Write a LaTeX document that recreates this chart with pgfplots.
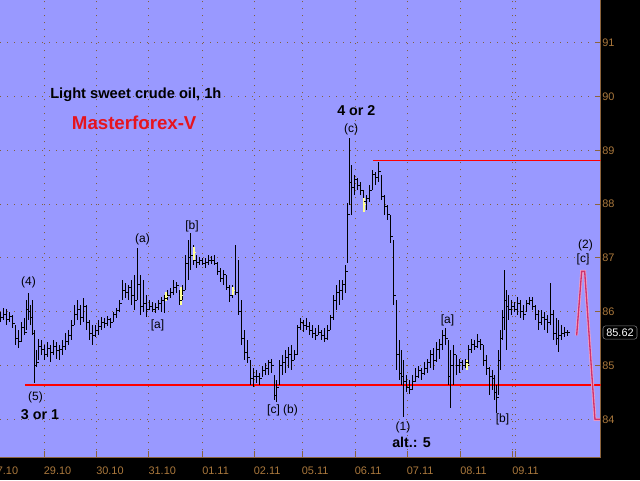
\documentclass[border=0pt]{standalone}
\usepackage{pgfplots}
\pgfplotsset{compat=1.18}
\usepackage{pgfplotstable}
\usepackage{fontspec}
\setmainfont{Liberation Sans}
\definecolor{bgblue}{RGB}{153,153,255}
\definecolor{tickbrown}{RGB}{170,120,60}
\definecolor{gridbrown}{RGB}{130,95,60}
\definecolor{axbrown}{RGB}{140,100,60}
\definecolor{mfred}{RGB}{230,20,30}
\definecolor{projpink}{RGB}{205,50,110}
\definecolor{projglow}{RGB}{240,160,200}
\definecolor{baryellow}{RGB}{255,255,150}
\pgfdeclareplotmark{rtick}{\pgfpathmoveto{\pgfpointorigin}\pgfpathlineto{\pgfpoint{1.6pt}{0pt}}\pgfusepathqstroke}
\pgfdeclareplotmark{ytick}{\pgfpathmoveto{\pgfpoint{-1pt}{0pt}}\pgfpathlineto{\pgfpoint{1.6pt}{0pt}}\pgfusepathqstroke}

\pgfplotstableread{
x lo hi cl
1 85.81 86.00 85.90
4 85.85 86.07 85.95
7 85.76 86.05 85.85
10 85.81 86.00 85.92
13 85.70 85.94 85.78
16 85.38 85.75 85.50
19 85.33 85.66 85.45
22 85.44 85.81 85.70
25 85.57 85.88 85.62
27 85.66 86.22 86.05
29 85.85 86.35 86.00
31 85.76 86.12 85.90
33 85.57 86.22 85.60
35 84.67 85.66 85.00
37 84.97 85.29 85.05
39 85.10 85.50 85.35
42 85.19 85.47 85.30
45 85.10 85.38 85.20
48 85.15 85.43 85.32
51 85.06 85.38 85.25
54 85.19 85.47 85.35
57 85.13 85.43 85.28
60 85.10 85.38 85.30
63 85.19 85.47 85.35
66 85.29 85.60 85.45
69 85.38 85.66 85.55
72 85.47 85.85 85.75
75 85.76 86.12 85.95
78 85.85 86.22 86.05
81 85.76 86.12 85.90
84 85.81 86.25 86.10
87 85.66 86.12 85.80
90 85.47 85.85 85.60
93 85.38 85.75 85.55
96 85.53 85.75 85.65
99 85.57 85.85 85.72
102 85.66 85.90 85.80
105 85.70 85.88 85.78
108 85.73 85.92 85.85
111 85.70 85.88 85.80
114 85.81 86.00 85.95
117 85.88 86.07 86.03
120 86.00 86.22 86.15
123 86.22 86.59 86.40
126 86.25 86.53 86.35
129 86.22 86.50 86.45
132 86.12 86.59 86.30
135 86.03 86.68 86.20
138 86.22 87.19 86.50
141 85.94 86.68 86.10
144 86.00 86.59 86.15
147 85.90 86.31 86.05
150 86.03 86.22 86.10
153 86.00 86.18 86.05
156 85.98 86.16 86.08
159 86.03 86.22 86.15
162 86.00 86.27 86.20
165 85.98 86.31 86.25
168 86.22 86.40 86.30
171 86.25 86.44 86.35
174 86.31 86.59 86.45
177 86.35 86.55 86.48
180 86.12 86.40 86.20
183 86.22 86.50 86.40
186 86.40 87.05 86.90
189 86.59 87.33 87.00
191 86.77 87.46 87.05
194 86.86 87.24 86.95
197 86.81 87.05 86.92
200 86.86 87.01 86.95
203 86.86 86.99 86.90
206 86.81 86.99 86.92
209 86.86 87.05 86.95
212 86.88 87.03 86.96
215 86.86 87.05 86.90
218 86.68 86.92 86.75
221 86.55 86.81 86.62
224 86.50 86.77 86.70
227 86.40 86.68 86.45
230 86.18 86.50 86.30
233 86.25 86.50 86.40
236 86.31 87.24 86.35
239 85.94 86.96 86.00
242 85.38 86.22 85.50
245 85.10 85.66 85.25
248 85.04 85.47 85.15
251 84.63 85.10 84.75
254 84.60 84.95 84.80
257 84.67 84.91 84.80
260 84.63 84.87 84.75
263 84.78 85.00 84.90
266 84.82 85.04 84.95
269 84.82 85.10 85.05
272 84.87 85.13 85.00
275 84.36 84.82 84.45
277 84.32 84.73 84.60
280 84.63 85.10 85.00
283 84.82 85.19 85.05
286 84.87 85.29 85.15
289 84.95 85.35 85.20
292 84.91 85.38 85.10
295 85.10 85.29 85.20
298 85.19 85.75 85.70
301 85.66 85.88 85.80
304 85.62 85.85 85.75
307 85.66 85.88 85.72
310 85.57 85.81 85.65
313 85.51 85.75 85.60
316 85.47 85.70 85.55
319 85.57 85.75 85.62
322 85.47 85.66 85.55
325 85.44 85.70 85.50
328 85.47 85.75 85.65
331 85.66 85.94 85.90
334 85.85 86.31 86.20
337 86.03 86.50 86.35
340 86.12 86.59 86.40
343 86.22 86.59 86.50
346 86.35 86.86 86.75
348 86.90 88.02 87.80
350 87.98 89.22 88.40
352 87.80 88.73 88.30
355 88.17 88.54 88.45
358 88.26 88.49 88.35
361 88.17 88.41 88.25
364 87.85 88.26 88.05
367 87.89 88.17 88.10
370 88.04 88.35 88.25
373 88.26 88.64 88.55
376 88.35 88.60 88.50
379 88.41 88.78 88.60
382 88.08 88.54 88.15
385 87.80 88.17 87.95
388 87.70 87.98 87.80
391 87.28 87.80 87.40
394 86.12 87.33 86.30
397 84.91 86.22 85.20
400 84.73 85.47 84.85
402 84.63 85.29 84.80
404 84.04 85.10 84.70
407 84.50 84.82 84.60
410 84.48 84.73 84.55
413 84.54 84.82 84.70
416 84.69 84.95 84.80
419 84.76 85.00 84.90
422 84.73 84.95 84.85
425 84.82 85.06 84.95
428 84.87 85.13 85.05
431 84.95 85.29 85.20
434 84.91 85.32 85.10
437 85.06 85.43 85.30
440 85.13 85.50 85.40
443 85.29 85.66 85.55
446 85.38 85.70 85.50
449 84.63 85.47 84.80
451 84.21 85.29 85.00
454 84.63 85.38 85.20
457 84.82 85.19 85.00
460 84.87 85.13 85.05
463 84.91 85.10 85.00
466 84.95 85.13 85.05
469 85.00 85.38 85.30
472 85.24 85.50 85.40
475 85.29 85.47 85.35
478 85.32 85.58 85.45
481 85.29 85.50 85.40
484 85.00 85.38 85.10
487 84.82 85.19 84.95
490 84.45 84.97 84.80
493 84.54 84.91 84.75
495 84.36 84.82 84.50
497 84.12 84.63 84.40
499 84.45 85.29 85.10
501 84.91 85.66 85.50
503 85.47 86.03 85.90
505 85.66 86.78 86.20
507 85.29 86.40 86.10
509 85.85 86.31 86.05
512 85.94 86.22 86.10
515 86.00 86.18 86.05
518 85.94 86.27 86.15
521 85.88 86.22 86.00
524 85.85 86.12 85.95
527 86.00 86.22 86.15
530 86.12 86.27 86.20
533 86.03 86.27 86.10
536 85.85 86.12 85.95
539 85.66 86.03 85.80
542 85.75 86.03 85.90
545 85.66 86.00 85.85
548 85.60 85.94 85.80
551 85.75 86.53 85.95
554 85.47 86.03 85.60
557 85.38 85.88 85.50
559 85.25 85.85 85.55
562 85.47 85.75 85.60
565 85.53 85.71 85.62
568 85.55 85.66 85.62
}\bars

\pgfplotstableread{
x lo hi cl
166 86.20 86.36 86.28
181 86.12 86.46 86.30
194 86.96 87.20 87.10
233 86.31 86.46 86.40
364 87.85 88.11 88.00
467 84.91 85.10 85.02
}\ybars

\begin{document}
\begin{tikzpicture}
\useasboundingbox (0,0) rectangle (480pt,360pt);
\clip (0,0) rectangle (480pt,360pt);
\fill[black] (0,0) rectangle (480pt,360pt);
\begin{axis}[
  at={(0pt,360pt)}, anchor=north west,
  scale only axis, width=450.5pt, height=343pt,
  xmin=0, xmax=600.7, ymin=83.294, ymax=91.794,
  axis background/.style={fill=bgblue},
  axis x line=bottom, axis y line=right,
  axis line style={-, draw=axbrown, line width=0.75pt},
  tick align=inside, major tick length=4.5pt,
  tick style={draw=axbrown, line width=0.75pt},
  xtick={44.3,96.7,149,202.7,254.3,302.3,355.3,407.3,460.7,512.7,516},
  xticklabels={29.10,30.10,31.10,01.11,02.11,05.11,06.11,07.11,08.11,09.11,{}},
  ytick={84,85,86,87,88,89,90,91},
  /pgf/number format/assume math mode=true,
  xticklabel style={anchor=north west, inner sep=0pt, xshift=-0.5pt, yshift=-6.75pt, font=\fontsize{8.2}{10}\selectfont, text=tickbrown},
  yticklabel style={anchor=west, inner sep=0pt, xshift=1pt, font=\fontsize{8.2}{10}\selectfont, text=tickbrown},
  grid=major,
  major grid style={draw=gridbrown, line width=0.75pt, dash pattern=on 0.75pt off 4.5pt},
]
\addplot[red, line width=1.2pt] coordinates {(25,84.64) (600.7,84.64)};
\addplot[red, line width=1.2pt] coordinates {(373,88.81) (600.7,88.81)};
\addplot[projglow, line width=2.2pt] coordinates {(576.7,85.56) (581.7,86.75) (584.7,86.75) (595,84.0) (600,84.0)};
\addplot[projpink, line width=1pt] coordinates {(576.7,85.56) (581.7,86.75) (584.7,86.75) (595,84.0) (600,84.0)};
\addplot[black, only marks, mark=rtick, mark options={line width=0.75pt},
  error bars/.cd, y dir=both, y explicit, error mark=none,
  error bar style={line width=0.75pt, black}]
  table[x=x, y=cl, y error plus expr=\thisrow{hi}-\thisrow{cl}, y error minus expr=\thisrow{cl}-\thisrow{lo}] {\bars};
\addplot[baryellow, only marks, mark=ytick, mark options={line width=0.75pt, draw=baryellow},
  error bars/.cd, y dir=both, y explicit, error mark=none,
  error bar style={line width=0.9pt, baryellow}]
  table[x=x, y=cl, y error plus expr=\thisrow{hi}-\thisrow{cl}, y error minus expr=\thisrow{cl}-\thisrow{lo}] {\ybars};
\end{axis}
\begin{scope}[x=0.75pt, y=-0.75pt, shift={(0pt,360pt)}]
\node[anchor=base west, inner sep=0pt, font=\bfseries\fontsize{11}{13}\selectfont] at (50,98.3) {Light sweet crude oil, 1h};
\node[anchor=base west, inner sep=0pt, font=\bfseries\fontsize{14}{16}\selectfont, text=mfred] at (71.7,129) {Masterforex-V};
\node[anchor=base west, inner sep=0pt, font=\bfseries\fontsize{10.7}{12}\selectfont] at (337,115) {4 or 2};
\node[anchor=base west, inner sep=0pt, font=\bfseries\fontsize{10.7}{12}\selectfont] at (20.7,419.3) {3 or 1};
\node[anchor=base west, inner sep=0pt, font=\bfseries\fontsize{10.7}{12}\selectfont] at (392,447) {alt.: 5};
\begin{scope}[every node/.style={inner sep=0pt, font=\fontsize{9}{10}\selectfont}]
\node at (351,129) {(c)};
\node at (28.5,282) {(4)};
\node at (35.5,397) {(5)};
\node at (142.5,239) {(a)};
\node at (157.5,325.5) {[a]};
\node at (192,226) {[b]};
\node at (282.5,410.5) {[c] (b)};
\node at (403,427) {(1)};
\node at (447.5,320.5) {[a]};
\node at (502.5,419) {[b]};
\node at (585.5,245.5) {(2)};
\node at (583,259.5) {[c]};
\end{scope}
\node[anchor=north west, inner sep=0pt, font=\fontsize{8.2}{10}\selectfont, text=tickbrown] at (-9.5,466.3) {27.10};
\node[fill=black, draw=gray, rounded corners=2pt, text=white, font=\fontsize{8.2}{10}\selectfont, minimum width=25.5pt, minimum height=10pt, inner sep=1pt] at (620,332.5) {85.62};
\end{scope}
\end{tikzpicture}
\end{document}
